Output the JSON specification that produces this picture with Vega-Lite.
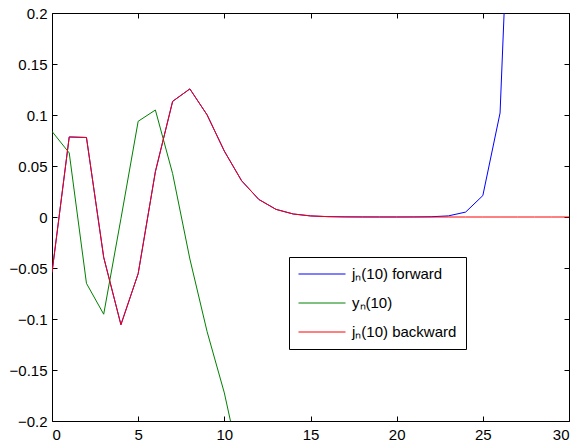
{
  "$schema": "https://vega.github.io/schema/vega-lite/v6.json",
  "width": 517,
  "height": 408,
  "autosize": "none",
  "padding": {"left": 52, "top": 13, "right": 11, "bottom": 21},
  "background": "white",
  "config": {
    "view": {"stroke": "black", "strokeWidth": 1},
    "font": "Liberation Sans",
    "axis": {
      "grid": false,
      "domain": false,
      "ticks": true,
      "tickSize": 5,
      "tickWidth": 1,
      "tickColor": "black",
      "tickOpacity": 1,
      "offset": -5,
      "zindex": 2,
      "labelFontSize": 15,
      "labelColor": "black",
      "labelFont": "Liberation Sans",
      "title": null
    }
  },
  "data": {
    "values": [
      {"n": 0, "value": -0.05440211, "series": "forward"},
      {"n": 1, "value": 0.07846694, "series": "forward"},
      {"n": 2, "value": 0.07794219, "series": "forward"},
      {"n": 3, "value": -0.03949584, "series": "forward"},
      {"n": 4, "value": -0.10558929, "series": "forward"},
      {"n": 5, "value": -0.05553451, "series": "forward"},
      {"n": 6, "value": 0.04450132, "series": "forward"},
      {"n": 7, "value": 0.11338623, "series": "forward"},
      {"n": 8, "value": 0.12557802, "series": "forward"},
      {"n": 9, "value": 0.10009639, "series": "forward"},
      {"n": 10, "value": 0.06460515, "series": "forward"},
      {"n": 11, "value": 0.03557441, "series": "forward"},
      {"n": 12, "value": 0.01721599, "series": "forward"},
      {"n": 13, "value": 0.00746558, "series": "forward"},
      {"n": 14, "value": 0.00294627, "series": "forward"},
      {"n": 15, "value": 0.00106964, "series": "forward"},
      {"n": 16, "value": 0.000359, "series": "forward"},
      {"n": 17, "value": 0.000112, "series": "forward"},
      {"n": 18, "value": 0.0000327, "series": "forward"},
      {"n": 19, "value": 0.0000089, "series": "forward"},
      {"n": 20, "value": 0.0000023, "series": "forward"},
      {"n": 21, "value": 0.00006, "series": "forward"},
      {"n": 22, "value": 0.00025, "series": "forward"},
      {"n": 23, "value": 0.0011, "series": "forward"},
      {"n": 24, "value": 0.0048, "series": "forward"},
      {"n": 25, "value": 0.021, "series": "forward"},
      {"n": 26, "value": 0.102, "series": "forward"},
      {"n": 27, "value": 0.52, "series": "forward"},
      {"n": 28, "value": 2.76, "series": "forward"},
      {"n": 29, "value": 15.2, "series": "forward"},
      {"n": 30, "value": 87.0, "series": "forward"},
      {"n": 0, "value": 0.08390715, "series": "y"},
      {"n": 1, "value": 0.06279283, "series": "y"},
      {"n": 2, "value": -0.0650693, "series": "y"},
      {"n": 3, "value": -0.09532748, "series": "y"},
      {"n": 4, "value": -0.00165994, "series": "y"},
      {"n": 5, "value": 0.09383353, "series": "y"},
      {"n": 6, "value": 0.10487682, "series": "y"},
      {"n": 7, "value": 0.04250634, "series": "y"},
      {"n": 8, "value": -0.04111731, "series": "y"},
      {"n": 9, "value": -0.11240577, "series": "y"},
      {"n": 10, "value": -0.17245365, "series": "y"},
      {"n": 11, "value": -0.2497469, "series": "y"},
      {"n": 12, "value": -0.40196422, "series": "y"},
      {"n": 13, "value": -0.75516365, "series": "y"},
      {"n": 0, "value": -0.05440211, "series": "backward"},
      {"n": 1, "value": 0.07846694, "series": "backward"},
      {"n": 2, "value": 0.07794219, "series": "backward"},
      {"n": 3, "value": -0.03949584, "series": "backward"},
      {"n": 4, "value": -0.10558929, "series": "backward"},
      {"n": 5, "value": -0.05553451, "series": "backward"},
      {"n": 6, "value": 0.04450132, "series": "backward"},
      {"n": 7, "value": 0.11338623, "series": "backward"},
      {"n": 8, "value": 0.12557802, "series": "backward"},
      {"n": 9, "value": 0.10009639, "series": "backward"},
      {"n": 10, "value": 0.06460515, "series": "backward"},
      {"n": 11, "value": 0.03557441, "series": "backward"},
      {"n": 12, "value": 0.01721599, "series": "backward"},
      {"n": 13, "value": 0.00746558, "series": "backward"},
      {"n": 14, "value": 0.00294627, "series": "backward"},
      {"n": 15, "value": 0.00106964, "series": "backward"},
      {"n": 16, "value": 0.000359, "series": "backward"},
      {"n": 17, "value": 0.000112, "series": "backward"},
      {"n": 18, "value": 0.0000327, "series": "backward"},
      {"n": 19, "value": 0.0000089, "series": "backward"},
      {"n": 20, "value": 0.0000023, "series": "backward"},
      {"n": 21, "value": 0.00000056, "series": "backward"},
      {"n": 22, "value": 0.00000013, "series": "backward"},
      {"n": 23, "value": 0.00000003, "series": "backward"},
      {"n": 24, "value": 0.000000006, "series": "backward"},
      {"n": 25, "value": 0.000000001, "series": "backward"},
      {"n": 26, "value": 0.0000000002, "series": "backward"},
      {"n": 27, "value": 0.00000000004, "series": "backward"},
      {"n": 28, "value": 0.000000000007, "series": "backward"},
      {"n": 29, "value": 0.000000000001, "series": "backward"},
      {"n": 30, "value": 0.0000000000002, "series": "backward"}
    ]
  },
  "encoding": {
    "x": {"field": "n", "type": "quantitative", "scale": {"domain": [0, 30], "nice": false, "zero": false}},
    "y": {"field": "value", "type": "quantitative", "scale": {"domain": [-0.2, 0.2], "nice": false, "zero": false}},
    "color": {
      "field": "series",
      "type": "nominal",
      "scale": {"domain": ["forward", "y", "backward"], "range": ["#0000ff", "#008000", "#ff0000"]},
      "legend": {
        "title": null,
        "orient": "none",
        "legendX": 237,
        "legendY": 244,
        "symbolType": "stroke",
        "symbolSize": 2209,
        "symbolStrokeWidth": 1,
        "clipHeight": 16,
        "rowPadding": 13,
        "padding": 9,
        "labelOffset": 6,
        "labelFontSize": 15,
        "labelFont": "Liberation Sans",
        "labelColor": "black",
        "strokeColor": "black",
        "fillColor": "white",
        "labelExpr": "datum.value == 'forward' ? 'jₙ(10) forward' : datum.value == 'y' ? 'yₙ(10)' : 'jₙ(10) backward'"
      }
    }
  },
  "resolve": {"axis": {"x": "independent", "y": "independent"}},
  "layer": [
    {
      "transform": [{"filter": "datum.series == 'forward'"}],
      "mark": {"type": "line", "clip": true, "strokeWidth": 1},
      "encoding": {
        "x": {"field": "n", "type": "quantitative", "axis": {"orient": "bottom", "values": [0, 5, 10, 15, 20, 25, 30], "labelPadding": 6}},
        "y": {"field": "value", "type": "quantitative", "axis": {"orient": "left", "values": [-0.2, -0.15, -0.1, -0.05, 0, 0.05, 0.1, 0.15, 0.2], "format": "~g", "labelPadding": 5}}
      }
    },
    {
      "transform": [{"filter": "datum.series == 'y'"}],
      "mark": {"type": "line", "clip": true, "strokeWidth": 1},
      "encoding": {
        "x": {"field": "n", "type": "quantitative", "axis": {"orient": "top", "values": [0, 5, 10, 15, 20, 25, 30], "labels": false}},
        "y": {"field": "value", "type": "quantitative", "axis": {"orient": "right", "values": [-0.2, -0.15, -0.1, -0.05, 0, 0.05, 0.1, 0.15, 0.2], "labels": false}}
      }
    },
    {
      "transform": [{"filter": "datum.series == 'backward'"}],
      "mark": {"type": "line", "clip": true, "strokeWidth": 1},
      "encoding": {
        "x": {"field": "n", "type": "quantitative", "axis": null},
        "y": {"field": "value", "type": "quantitative", "axis": null}
      }
    }
  ]
}
